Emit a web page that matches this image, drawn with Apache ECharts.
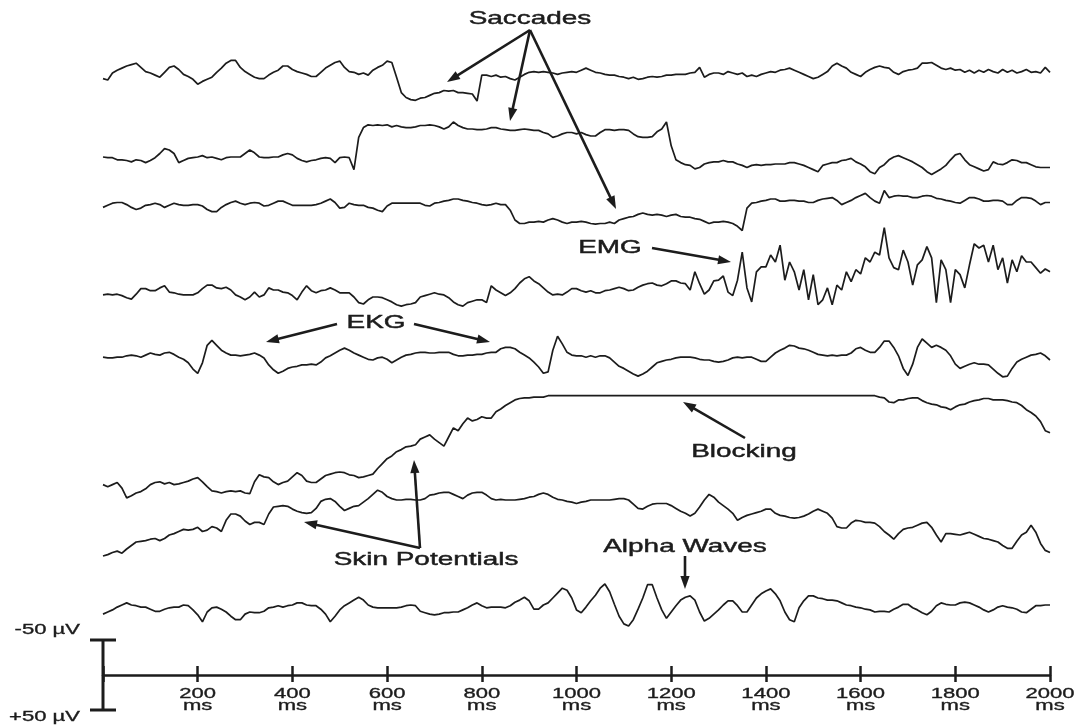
<!DOCTYPE html>
<html>
<head>
<meta charset="utf-8">
<title>EEG artifacts</title>
<script src="https://cdn.jsdelivr.net/npm/echarts@6/dist/echarts.min.js"></script>
<style>
  html, body { margin: 0; padding: 0; background: #ffffff; }
  #chart { width: 1075px; height: 726px; }
</style>
</head>
<body>
<div id="chart"></div>
<script>
// One sample every 10 ms, 0 .. 2000 ms (201 samples per channel). Values in µV, negative = up.
const SAMPLE_MS = 10;
const TIME_TICKS = [200, 400, 600, 800, 1000, 1200, 1400, 1600, 1800, 2000];
const SCALE_BAR_UV = [-50, 50];

const saccades1 = [
  9,11,1,-3,-6,-9,-11,-13,-7,-1,
  1,4,7,0,-7,-9,-4,3,6,10,
  17,13,10,7,0,-6,-13,-17,-17,-7,
  -1,3,7,9,9,4,0,-3,-9,-9,
  -4,-1,1,3,6,6,0,-6,-10,-14,
  -16,-7,-1,0,3,1,4,-3,-7,-10,
  -16,-14,7,29,36,39,40,37,36,33,
  30,29,26,27,26,29,29,30,31,41,
  4,4,6,4,7,6,9,11,7,3,
  0,-1,0,-1,0,1,3,1,0,-1,
  0,-3,-6,-3,0,1,3,4,4,6,
  7,9,7,10,9,7,6,7,6,4,
  4,3,3,3,1,0,-7,7,3,1,
  1,3,-1,1,3,1,6,4,6,3,
  1,-1,0,-3,-4,-6,-3,0,3,6,
  9,7,3,-1,-9,-13,-9,-6,0,3,
  6,0,-4,-7,-9,-7,-6,0,3,-1,
  -3,-4,-6,-13,-13,-14,-10,-6,-4,-6,
  -3,-4,0,-3,1,-3,0,-4,-1,1,
  -4,0,-3,1,-1,-4,0,-1,1,-7,
  0
];

const saccades2 = [
  -1,0,0,3,3,4,6,3,4,7,
  4,0,-6,-13,-11,-6,7,4,1,0,
  -1,-3,0,-1,1,3,0,-1,-1,-1,
  -6,-11,-7,-1,0,0,-1,-1,-4,-6,
  -4,1,4,6,4,3,1,0,1,7,
  0,-1,0,17,-29,-43,-47,-46,-47,-46,
  -47,-44,-46,-44,-43,-43,-44,-46,-46,-47,
  -46,-44,-41,-44,-51,-46,-43,-41,-41,-40,
  -40,-41,-43,-43,-41,-40,-39,-39,-40,-41,
  -40,-39,-39,-36,-34,-29,-31,-34,-36,-36,
  -34,-36,-33,-31,-31,-36,-40,-40,-39,-40,
  -40,-39,-34,-30,-29,-29,-30,-37,-41,-51,
  -17,3,7,10,11,16,14,9,7,6,
  6,4,6,6,9,11,14,11,10,11,
  10,10,9,9,9,7,7,9,11,14,
  17,20,11,9,7,7,4,3,1,6,
  9,13,20,23,14,10,3,-1,-3,0,
  3,6,10,14,20,24,20,16,11,3,
  -4,-6,3,10,13,16,19,17,6,9,
  10,7,3,4,7,7,10,13,14,14,
  14
];

const saccades3 = [
  3,0,-3,-4,-4,-1,3,6,4,0,
  -1,-3,-1,3,0,-3,-1,0,0,-1,
  -1,1,6,9,9,3,-1,-4,-6,-3,
  -1,-3,-4,-3,1,0,-3,-6,-6,-3,
  0,0,0,0,0,-1,-3,-6,-9,-4,
  4,3,-3,-1,0,0,3,4,7,9,
  1,-3,-3,-3,-3,-3,-3,-3,0,1,
  -3,-4,-6,-7,-9,-9,-7,-6,-4,-3,
  -1,0,-1,-3,-1,-1,7,21,26,26,
  24,24,23,24,21,19,21,24,26,24,
  24,23,24,26,27,26,26,24,26,21,
  19,17,16,13,11,13,14,13,14,16,
  14,13,16,17,17,19,20,23,26,24,
  24,23,24,26,30,36,4,-3,-4,-6,
  -7,-9,-9,-6,-6,-7,-7,-6,-6,-4,
  -4,-7,-9,-10,-11,-7,-1,-4,-7,-11,
  -14,-17,-11,-6,-3,-21,-11,-13,-14,-13,
  -13,-11,-11,-13,-14,-13,-10,-9,-7,-6,
  -4,-3,-7,-11,-11,-9,-6,-6,-7,-7,
  -6,-1,-1,-7,-11,-11,-10,-6,-1,-4,
  -4
];

const emg = [
  0,-1,0,-1,1,4,6,-1,-9,-9,
  -6,-6,-10,-13,-4,-3,-1,0,0,0,
  -3,-9,-14,-14,-10,-9,-11,-7,0,3,
  7,3,-4,3,0,-10,-7,-7,-4,-3,
  1,7,-4,-13,-6,-3,-6,-7,-10,-7,
  -3,-3,-3,3,11,13,7,3,3,4,
  7,10,14,16,14,13,11,3,1,-1,
  -3,-1,0,4,10,14,16,11,9,7,
  7,11,-13,-7,-3,1,-3,-9,-17,-23,
  -26,-20,-16,-10,-4,0,-1,0,-4,-9,
  -9,-6,-4,-6,-3,-3,-6,-7,-9,-11,
  -9,-6,-7,-11,-14,-16,-17,-14,-13,-16,
  -20,-20,-17,-16,-7,-33,-16,-1,-7,-20,
  -21,-27,-4,1,-21,-61,-10,10,-33,-40,
  -40,-57,-47,-71,-21,-47,-33,-7,-36,7,
  -29,14,7,-10,14,-14,-7,-33,-19,-36,
  -30,-53,-47,-61,-57,-96,-53,-39,-36,-64,
  -47,-14,-43,-50,-69,-53,11,-50,-36,11,
  -36,-29,-10,-43,-73,-67,-71,-47,-71,-36,
  -53,-17,-50,-33,-56,-47,-47,-39,-31,-37,
  -33
];

const ekg = [
  3,4,4,3,3,1,0,1,3,0,
  -3,-1,0,-3,-4,-1,3,6,11,20,
  26,11,-14,-21,-14,-7,-3,0,0,1,
  0,-1,-3,0,4,14,21,26,23,19,
  17,16,14,14,13,14,10,4,1,-3,
  -7,-10,-7,-3,0,3,6,7,4,3,
  6,11,7,3,0,-1,-3,-4,-4,-3,
  -3,-4,-4,-4,-1,1,1,0,0,-1,
  -1,-3,-4,-4,-9,-11,-11,-9,-4,0,
  4,10,17,26,24,-7,-27,-16,-4,0,
  1,1,3,1,3,1,1,4,10,16,
  19,23,27,30,27,23,17,11,9,7,
  6,4,3,3,3,4,6,7,7,9,
  10,9,7,4,3,4,3,3,6,9,
  9,3,-3,-7,-10,-14,-13,-10,-9,-7,
  -4,-1,0,1,0,1,0,0,-3,-9,
  -11,-7,-4,-4,-11,-20,-20,-11,1,19,
  29,13,-11,-23,-17,-11,-14,-11,-7,1,
  13,19,16,13,11,13,13,14,20,26,
  31,30,19,10,6,3,0,-1,-3,1,
  7
];

const blocking = [
  64,67,64,61,69,83,80,76,74,70,
  64,61,60,63,61,64,63,61,59,56,
  54,60,67,73,74,76,74,73,74,73,
  76,77,60,50,53,54,60,64,61,59,
  53,47,51,59,61,61,56,51,49,47,
  46,47,50,51,54,53,51,49,41,34,
  27,23,17,14,10,9,7,-1,-4,-7,
  -1,4,9,-4,-17,-13,-23,-31,-27,-29,
  -33,-31,-31,-40,-44,-49,-53,-57,-59,-60,
  -60,-61,-61,-61,-63,-63,-63,-63,-63,-63,
  -63,-63,-63,-63,-63,-63,-63,-63,-63,-63,
  -63,-63,-63,-63,-63,-63,-63,-63,-63,-63,
  -63,-63,-63,-63,-63,-63,-63,-63,-63,-63,
  -63,-63,-63,-63,-63,-63,-63,-63,-63,-63,
  -63,-63,-63,-63,-63,-63,-63,-63,-63,-63,
  -63,-63,-63,-63,-63,-63,-63,-63,-63,-63,
  -63,-63,-63,-63,-61,-60,-54,-53,-57,-57,
  -59,-60,-60,-56,-53,-51,-50,-47,-46,-43,
  -47,-50,-51,-54,-56,-57,-59,-59,-57,-57,
  -57,-56,-54,-53,-49,-43,-39,-34,-26,-13,
  -10
];

const skinPotentials = [
  51,49,46,44,47,41,36,31,30,29,
  27,26,29,26,21,19,16,13,14,13,
  10,16,14,9,11,16,0,-9,-9,-6,
  1,6,3,3,6,-9,-19,-20,-21,-20,
  -16,-13,-11,-10,-11,-17,-27,-30,-31,-27,
  -20,-14,-17,-20,-21,-26,-31,-37,-43,-40,
  -34,-31,-29,-29,-30,-30,-29,-29,-31,-36,
  -37,-39,-40,-40,-37,-34,-31,-36,-39,-40,
  -40,-36,-31,-29,-30,-29,-29,-29,-30,-31,
  -33,-34,-37,-39,-37,-33,-30,-29,-27,-26,
  -24,-26,-27,-29,-29,-29,-29,-29,-30,-31,
  -31,-29,-23,-17,-16,-20,-23,-24,-24,-24,
  -21,-17,-13,-10,-6,-10,-19,-29,-37,-33,
  -26,-21,-16,-10,0,-4,-7,-9,-11,-13,
  -16,-16,-10,-7,-6,-4,-3,-4,-6,-9,
  -13,-16,-13,-10,-3,9,11,11,4,0,
  1,3,3,4,9,16,21,27,19,13,
  11,10,7,4,3,10,21,31,19,19,
  20,21,19,17,20,23,26,27,29,31,
  36,40,40,30,21,17,7,17,33,43,
  46
];

const alpha = [
  13,10,7,3,0,-3,0,1,3,3,
  6,9,9,6,4,3,3,0,1,7,
  14,24,10,4,3,6,10,16,21,21,
  13,10,11,11,9,4,3,1,3,1,
  0,-3,-3,0,1,1,6,13,24,16,
  7,1,-3,-7,-11,-7,0,3,4,4,
  4,4,4,3,1,0,1,9,11,13,
  14,13,11,11,10,10,7,4,0,-3,
  1,4,3,3,3,4,1,-4,-7,-11,
  -6,6,6,0,-3,-10,-17,-24,-21,-10,
  7,11,3,-6,-14,-24,-30,-19,-1,16,
  27,30,21,6,-10,-29,-29,-10,7,19,
  10,1,-7,-11,-13,-7,10,23,19,13,
  7,0,-6,-6,1,10,10,0,-10,-16,
  -20,-23,-16,-6,10,21,24,4,-6,-13,
  -13,-10,-9,-7,-7,-6,-3,0,1,3,
  4,6,7,10,9,9,10,6,3,-1,
  -1,4,7,11,14,9,1,-3,-1,0,
  0,-3,-4,-3,0,3,7,10,7,3,
  1,3,4,6,10,11,6,1,1,0,
  0
];

// ---- layout ---------------------------------------------------------------
const CHANNELS = [saccades1, saccades2, saccades3, emg, ekg, blocking, skinPotentials, alpha];
// Vertical placement of each channel's zero line on the shared µV axis (top to bottom).
const CHANNEL_OFFSETS = [-861, -739, -671, -543, -457, -336, -221, -100];

const INK = '#1c1c1c';
const FONT = '"Liberation Sans", Arial, Helvetica, sans-serif';
const STRETCH = 1.47;   // wide lettering used throughout the figure

function arrow(x1, y1, x2, y2) {
  const dx = x2 - x1, dy = y2 - y1, len = Math.hypot(dx, dy);
  const ux = dx / len, uy = dy / len;
  const hl = 13, hw = 4.6;
  const bx = x2 - ux * hl, by = y2 - uy * hl;
  return [
    { type: 'line', silent: true, shape: { x1: x1, y1: y1, x2: bx + ux * 2, y2: by + uy * 2 },
      style: { stroke: INK, lineWidth: 2.6 } },
    { type: 'polygon', silent: true,
      shape: { points: [[x2, y2], [bx - uy * hw, by + ux * hw], [bx + uy * hw, by - ux * hw]] },
      style: { fill: INK } }
  ];
}

function label(text, x, y) {
  return { type: 'text', silent: true, x: x, y: y, scaleX: STRETCH,
    style: { text: text, fontSize: 19, fontFamily: FONT, fill: INK,
             stroke: INK, lineWidth: 0.45,
             textAlign: 'center', textVerticalAlign: 'middle' } };
}

const annotations = [].concat(
  label('Saccades', 530, 19),
  arrow(530, 30, 447, 82),
  arrow(530, 30, 510, 121),
  arrow(530, 30, 616, 209),
  label('EMG', 610, 248),
  arrow(652, 248, 731, 262),
  label('EKG', 376, 323),
  arrow(337, 324, 266, 342),
  arrow(414, 324, 490, 342),
  label('Blocking', 744, 452),
  arrow(745, 438, 683, 402),
  label('Skin Potentials', 426, 560),
  arrow(420, 548, 414, 460),
  arrow(420, 548, 304, 522),
  label('Alpha Waves', 685, 547),
  arrow(685, 556, 685, 589)
);

const traceSeries = CHANNELS.map(function (values, c) {
  return {
    type: 'line',
    silent: true,
    showSymbol: false,
    symbol: 'none',
    clip: false,
    lineStyle: { color: INK, width: 1.7 },
    data: values.map(function (v, i) { return [i * SAMPLE_MS, v + CHANNEL_OFFSETS[c]]; })
  };
});

const tickLabelSeries = {
  type: 'custom',
  silent: true,
  data: TIME_TICKS.map(function (t) { return [t, 0]; }),
  renderItem: function (params, api) {
    const p = api.coord([api.value(0), 0]);
    const base = { fontSize: 15, fontFamily: FONT, fill: INK, stroke: INK, lineWidth: 0.35,
                   textAlign: 'center', textVerticalAlign: 'middle' };
    return {
      type: 'group',
      children: [
        { type: 'text', x: p[0], y: p[1] + 18.5, scaleX: STRETCH,
          style: Object.assign({ text: String(api.value(0)) }, base) },
        { type: 'text', x: p[0], y: p[1] + 30.5, scaleX: STRETCH,
          style: Object.assign({ text: 'ms' }, base) }
      ]
    };
  }
};

const scaleBarSeries = {
  type: 'custom',
  silent: true,
  data: [[0, SCALE_BAR_UV[0], SCALE_BAR_UV[1]]],
  renderItem: function (params, api) {
    const top = api.coord([api.value(0), api.value(1)]);
    const bot = api.coord([api.value(0), api.value(2)]);
    const cap = 13;
    const stroke = { stroke: INK, lineWidth: 3 };
    const txt = function (v) { return (v > 0 ? '+' : '') + v + ' \u00b5V'; };
    const ts = { fontSize: 15, fontFamily: FONT, fill: INK, stroke: INK, lineWidth: 0.35,
                 textAlign: 'right', textVerticalAlign: 'middle' };
    return {
      type: 'group',
      children: [
        { type: 'line', shape: { x1: top[0], y1: top[1], x2: bot[0], y2: bot[1] }, style: stroke },
        { type: 'line', shape: { x1: top[0] - cap, y1: top[1], x2: top[0] + cap, y2: top[1] }, style: stroke },
        { type: 'line', shape: { x1: bot[0] - cap, y1: bot[1], x2: bot[0] + cap, y2: bot[1] }, style: stroke },
        { type: 'text', x: top[0] - 23, y: top[1] - 10, scaleX: STRETCH,
          style: Object.assign({ text: txt(api.value(1)) }, ts) },
        { type: 'text', x: bot[0] - 23, y: bot[1] + 7, scaleX: STRETCH,
          style: Object.assign({ text: txt(api.value(2)) }, ts) }
      ]
    };
  }
};

const chart = echarts.init(document.getElementById('chart'), null, { renderer: 'canvas' });
chart.setOption({
  animation: false,
  backgroundColor: '#ffffff',
  grid: { left: 103, right: 25, top: 31, bottom: 9, outerBoundsMode: 'none' },
  xAxis: [
    {
      type: 'value', min: 0, max: 2000, interval: 200, position: 'bottom',
      axisLine: { show: true, onZero: true, onZeroAxisIndex: 0, lineStyle: { color: INK, width: 2.5 } },
      axisTick: { show: true, length: 7, lineStyle: { color: INK, width: 2.5 } },
      axisLabel: { show: false },
      splitLine: { show: false }
    },
    {
      type: 'value', min: 0, max: 2000, interval: 200, position: 'top',
      axisLine: { show: false, onZero: true, onZeroAxisIndex: 0 },
      axisTick: { show: true, length: 9, lineStyle: { color: INK, width: 2.5 } },
      axisLabel: { show: false },
      splitLine: { show: false }
    }
  ],
  yAxis: {
    type: 'value', min: -920, max: 60, inverse: true, show: false,
    splitLine: { show: false }
  },
  series: traceSeries.concat([tickLabelSeries, scaleBarSeries]),
  graphic: { elements: annotations }
});
</script>
</body>
</html>
